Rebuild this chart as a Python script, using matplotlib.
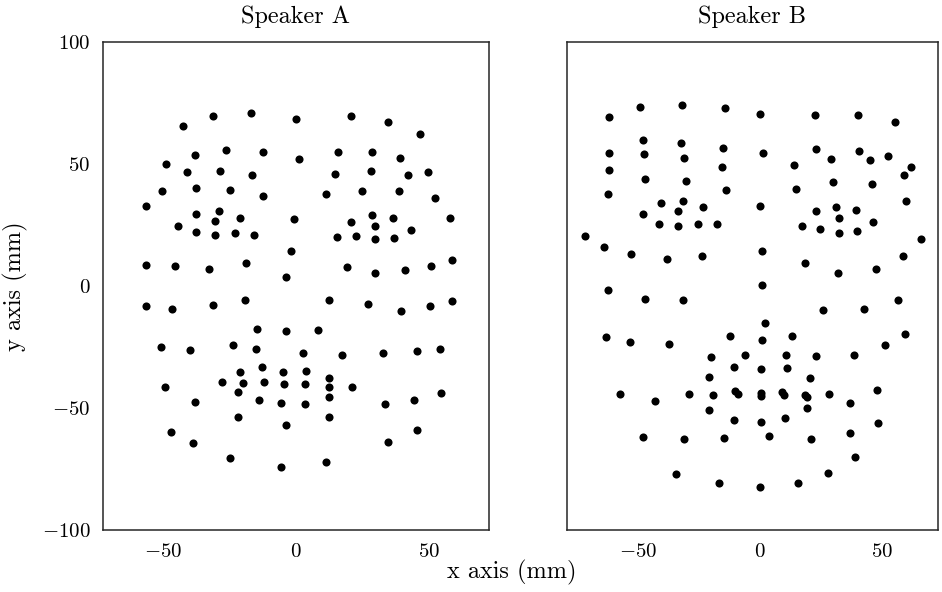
import numpy as np
import matplotlib.pyplot as plt

plt.rcParams['font.family'] = 'serif'
plt.rcParams['font.serif'] = ['cmr10']
plt.rcParams['mathtext.fontset'] = 'cm'
plt.rcParams['axes.formatter.use_mathtext'] = True

# marker positions (x, y) in mm
speaker_a = [
    (-42.5, 65.6), (-31.1, 69.5), (-17.0, 71.0), (-0.1, 68.4), (-38.0, 53.7), (-26.2, 55.6),
    (-12.3, 55.0), (1.1, 52.2), (-48.9, 50.0), (-41.0, 46.8), (-28.7, 47.3), (-16.4, 45.5),
    (-50.5, 38.9), (-37.5, 40.2), (-24.7, 39.5), (-12.3, 36.9), (-56.3, 32.9), (-37.5, 29.4),
    (-29.1, 30.9), (-30.3, 26.8), (-21.1, 28.0), (-0.8, 27.6), (-44.2, 24.7), (-37.6, 22.1),
    (-30.3, 21.0), (-23.0, 21.7), (-15.7, 20.9), (-1.8, 14.2), (-56.4, 8.6), (-45.5, 8.1),
    (-32.8, 6.8), (-18.7, 9.5), (-3.8, 3.5),
    (20.6, 69.5), (34.5, 67.1), (46.7, 62.2), (15.8, 55.0), (28.7, 55.0), (39.1, 52.3),
    (14.7, 46.0), (28.3, 47.3), (42.0, 45.4), (49.6, 46.7), (11.2, 37.6), (24.8, 39.1),
    (38.7, 38.9), (52.4, 36.2), (28.5, 29.1), (36.6, 28.0), (57.9, 27.9), (20.8, 26.2),
    (29.6, 24.7), (43.3, 23.0), (15.4, 20.2), (22.6, 20.6), (29.8, 19.3), (36.8, 19.8),
    (19.3, 7.7), (29.7, 5.5), (40.9, 6.6), (50.6, 8.3), (58.8, 10.5),
    (-56.3, -8.1), (-46.6, -9.4), (-31.2, -7.9), (-19.2, -5.9), (-14.7, -17.5), (-3.8, -18.3),
    (-50.8, -25.1), (-40.0, -26.2), (-23.7, -24.1), (-15.0, -25.8), (2.6, -27.5), (-21.2, -35.2),
    (-12.8, -33.3), (-5.0, -35.2), (3.8, -34.7), (-27.8, -39.3), (-19.8, -39.8), (-11.9, -39.2),
    (-4.6, -40.3), (3.5, -40.3), (-21.8, -43.6), (-49.1, -41.4), (-38.0, -47.7), (-13.9, -46.8),
    (-5.6, -48.1), (3.5, -48.4), (-21.9, -53.7), (-3.6, -57.1), (-47.0, -59.7), (-38.7, -64.3),
    (-24.8, -70.5), (-5.8, -74.2),
    (12.5, -5.6), (27.2, -7.3), (39.4, -10.1), (50.5, -8.2), (58.6, -6.1), (8.3, -18.0),
    (17.2, -28.2), (32.6, -27.5), (45.4, -26.6), (54.1, -25.9), (12.4, -37.7), (12.4, -41.3),
    (21.1, -41.4), (12.4, -45.6), (33.5, -48.2), (44.5, -46.8), (54.4, -43.9), (12.4, -53.7),
    (45.6, -59.1), (34.8, -63.8), (11.4, -72.1),
]

speaker_b = [
    (-62.0, 69.4), (-49.1, 73.2), (-31.8, 74.1), (-14.3, 73.0), (0.0, 70.6), (-48.0, 59.8),
    (-32.3, 58.7), (-15.2, 56.4), (-62.0, 54.5), (-47.4, 54.0), (-31.1, 52.3), (1.4, 54.5),
    (-61.8, 47.7), (-15.6, 48.9), (-47.1, 43.9), (-30.3, 43.0), (-13.8, 39.5), (-62.2, 37.6),
    (-40.6, 34.0), (-31.7, 35.0), (-23.2, 32.3), (-33.5, 30.7), (-48.0, 29.4), (0.1, 32.9),
    (-41.3, 25.5), (-33.5, 24.6), (-25.5, 25.4), (-17.6, 25.5), (-71.6, 20.4), (-64.1, 15.9),
    (-53.0, 13.0), (-38.2, 11.1), (-23.6, 12.4), (0.7, 14.2), (-62.4, -1.8), (0.8, 0.3),
    (22.7, 70.1), (40.2, 70.0), (55.3, 67.2), (23.0, 56.1), (29.2, 52.0), (40.6, 55.2),
    (45.0, 51.8), (52.6, 53.2), (61.9, 48.6), (59.0, 45.4), (13.8, 49.5), (14.8, 39.8),
    (30.0, 42.5), (45.8, 41.8), (59.7, 34.7), (22.8, 30.6), (31.1, 32.3), (39.6, 31.0),
    (32.5, 27.9), (46.4, 26.1), (17.1, 24.7), (24.6, 23.5), (32.3, 21.7), (39.9, 22.4),
    (66.0, 19.1), (18.4, 9.4), (32.0, 5.2), (47.4, 7.0), (58.6, 12.3),
    (-47.0, -5.5), (-31.6, -5.7), (-63.1, -20.9), (-53.2, -23.0), (-37.3, -23.9), (-12.4, -20.6),
    (0.7, -22.1), (2.2, -15.2), (-20.0, -29.0), (-6.1, -28.4), (-10.8, -33.3), (-21.0, -37.4),
    (0.5, -34.0), (-57.4, -44.4), (-43.2, -47.3), (-29.1, -44.1), (-19.1, -44.8), (-10.1, -43.0),
    (-9.1, -44.4), (0.3, -44.0), (0.3, -45.0), (-20.9, -50.9), (-10.7, -54.8), (0.4, -55.7),
    (-48.1, -61.9), (-31.0, -62.7), (-14.6, -62.3), (-34.3, -77.2), (-16.9, -80.6), (-0.1, -82.3),
    (25.7, -9.8), (42.6, -9.3), (56.7, -5.9), (13.1, -20.4), (59.3, -19.7), (51.1, -24.1),
    (10.9, -28.4), (22.8, -28.8), (38.4, -28.3), (11.2, -33.5), (20.6, -37.8), (9.0, -43.5),
    (9.8, -44.5), (18.5, -44.6), (19.3, -45.6), (28.2, -44.1), (48.2, -42.7), (19.5, -50.0),
    (36.8, -48.0), (10.4, -54.1), (48.5, -56.0), (3.8, -61.4), (20.8, -62.6), (36.9, -60.1),
    (38.9, -70.2), (28.0, -76.6), (15.5, -80.7),
]

titles = ['Speaker A', 'Speaker B']
xlims = [(-72.6, 72.6), (-79.1, 73.0)]
xticks = [-50, 0, 50]
yticks = [-100, -50, 0, 50, 100]

fig = plt.figure(figsize=(9.42, 5.92), dpi=100)
ax1 = fig.add_axes([0.1093, 0.1047, 0.4098, 0.8243])
ax2 = fig.add_axes([0.6019, 0.1047, 0.3938, 0.8243], sharey=ax1)

for ax, pts, title, xl in zip([ax1, ax2], [speaker_a, speaker_b], titles, xlims):
    pts = np.array(pts)
    ax.scatter(pts[:, 0], pts[:, 1], s=34, c='black', linewidths=0)
    ax.set_xlim(*xl)
    ax.set_ylim(-100, 100)
    ax.set_xticks(xticks)
    ax.set_yticks(yticks)
    ax.set_title(title, fontsize=17.5, pad=13.5)
    ax.tick_params(length=0, labelsize=15, pad=9)
    for sp in ax.spines.values():
        sp.set_color('0.15')
        sp.set_linewidth(1.1)

ax2.tick_params(labelleft=False)
ax1.set_ylabel('y axis (mm)', fontsize=17.5, labelpad=10)
fig.text(0.543, 0.012, 'x axis (mm)', ha='center', va='bottom', fontsize=17.5)

fig.savefig('out.png', dpi=100)
